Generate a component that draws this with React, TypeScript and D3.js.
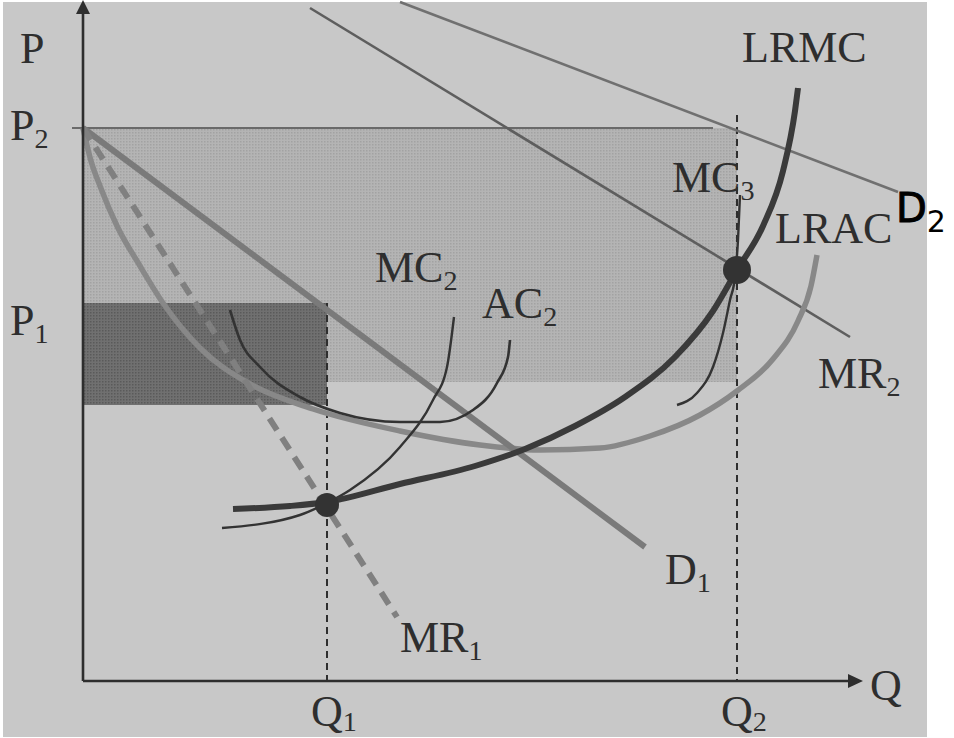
import React from "react";
import * as d3 from "d3";

// ---- data (Q, P in chart units) ----
const demand1: [number, number][] = [[0, 553], [562, 134]];
const marginalRevenue1: [number, number][] = [[0, 553], [314, 64]];
const demand2: [number, number][] = [[317, 679], [815, 489]];
const marginalRevenue2: [number, number][] = [[227, 673], [767, 344]];
const lrac: [number, number][] = [
  [0, 553], [8, 520], [17, 495], [34, 455], [57, 415], [80, 378], [117, 333],
  [167, 297], [230, 272], [317, 250], [397, 236], [457, 231], [517, 233],
  [567, 245], [617, 266], [654, 290], [690, 322], [715, 360], [728, 395], [734, 426],
];
const lrmc: [number, number][] = [
  [150, 172], [207, 175], [244, 179], [317, 197], [392, 215], [442, 232],
  [492, 255], [542, 284], [592, 324], [630, 370], [654, 411], [680, 455],
  [700, 510], [712, 570], [715, 593],
];
const mc2: [number, number][] = [
  [139, 153], [217, 166], [244, 178], [267, 191], [317, 234], [350, 281],
  [364, 314], [371, 364],
];
const ac2: [number, number][] = [
  [147, 371], [157, 341], [177, 314], [217, 284], [257, 268], [317, 259],
  [357, 259], [390, 271], [414, 298], [425, 324], [427, 341],
];
const mc3: [number, number][] = [
  [594, 276], [614, 288], [630, 314], [640, 348], [647, 381], [652, 404],
  [655, 441], [657, 486],
];
const equilibria: [number, number][] = [[244, 176], [654, 411]];
const quantityLevels = [244, 654];
const quantityLabels = ["1", "2"];
const priceLevels = [553, 378];
const priceLabels = ["2", "1"];
// [q0, q1, pTop, pBottom]
const shadedLight: number[] = [0, 654, 553, 299];
const shadedDark: number[] = [0, 244, 378, 276];

const W = 954;
const H = 738;
const x = d3.scaleLinear().domain([0, 780]).range([83, 863]);
const y = d3.scaleLinear().domain([0, 681]).range([681, 0]);

const smooth = d3
  .line<[number, number]>()
  .x((d) => x(d[0]))
  .y((d) => y(d[1]))
  .curve(d3.curveMonotoneX);
const straight = d3
  .line<[number, number]>()
  .x((d) => x(d[0]))
  .y((d) => y(d[1]));

const serif = "'Liberation Serif', 'DejaVu Serif', serif";
const ink = "#2e2e2e";

function Lab({ x0, y0, main, sub, size = 44, subDy = 8 }: { x0: number; y0: number; main: string; sub?: string; size?: number; subDy?: number }) {
  return (
    <text x={x0} y={y0} fontFamily={serif} fontSize={size} fill={ink}>
      {main}
      {sub ? (
        <tspan dy={subDy} fontSize={size * 0.64}>
          {sub}
        </tspan>
      ) : null}
    </text>
  );
}

export default function App() {
  const origin = { x: x(0), y: y(0) };
  return (
    <svg
      width={W}
      height={H}
      style={{ position: "absolute", left: 0, top: 0, display: "block" }}
    >
      <defs>
        <pattern id="lightTone" width="3" height="3" patternUnits="userSpaceOnUse">
          <rect width="3" height="3" fill="#b4b4b4" />
          <rect width="1.5" height="1.5" fill="#a2a2a2" />
        </pattern>
        <pattern id="darkTone" width="3" height="3" patternUnits="userSpaceOnUse">
          <rect width="3" height="3" fill="#707070" />
          <rect width="1.5" height="1.5" fill="#5a5a5a" />
        </pattern>
      </defs>
      <rect x={0} y={0} width={W} height={H} fill="#ffffff" />
      <rect x={3} y={2} width={924} height={735} fill="#c8c8c8" />

      {/* shaded areas */}
      <rect
        x={x(shadedLight[0])}
        y={y(shadedLight[2])}
        width={x(shadedLight[1]) - x(shadedLight[0])}
        height={y(shadedLight[3]) - y(shadedLight[2])}
        fill="url(#lightTone)"
      />
      <rect
        x={x(shadedDark[0])}
        y={y(shadedDark[2])}
        width={x(shadedDark[1]) - x(shadedDark[0])}
        height={y(shadedDark[3]) - y(shadedDark[2])}
        fill="url(#darkTone)"
      />
      {/* P2 top line */}
      <line x1={x(0) - 11} x2={x(630)} y1={y(priceLevels[0])} y2={y(priceLevels[0])} stroke="#6a6a6a" strokeWidth={2} />

      {/* Q dashed verticals */}
      {quantityLevels.map((q, i) => (
        <line
          key={i}
          x1={x(q)}
          x2={x(q)}
          y1={i === 0 ? y(priceLevels[1]) : y(566)}
          y2={y(0)}
          stroke={ink}
          strokeWidth={2}
          strokeDasharray="7,5"
        />
      ))}

      {/* D2 and MR2 */}
      <path d={straight(demand2) || ""} fill="none" stroke="#707070" strokeWidth={2.6} />
      <path d={straight(marginalRevenue2) || ""} fill="none" stroke="#5e5e5e" strokeWidth={2.6} />

      {/* LRAC */}
      <path d={smooth(lrac) || ""} fill="none" stroke="#888888" strokeWidth={5.5} />
      {/* D1 */}
      <path d={straight(demand1) || ""} fill="none" stroke="#7a7a7a" strokeWidth={6} />
      {/* MR1 dashed */}
      <path d={straight(marginalRevenue1) || ""} fill="none" stroke="#808080" strokeWidth={6} strokeDasharray="14,9" />

      {/* short run curves */}
      <path d={smooth(ac2) || ""} fill="none" stroke="#333" strokeWidth={2.6} />
      <path d={smooth(mc2) || ""} fill="none" stroke="#333" strokeWidth={2.4} />
      <path d={smooth(mc3) || ""} fill="none" stroke="#333" strokeWidth={2.4} />
      {/* LRMC */}
      <path d={smooth(lrmc) || ""} fill="none" stroke="#3a3a3a" strokeWidth={6} strokeLinecap="butt" />

      {/* equilibrium dots */}
      {equilibria.map((d, i) => (
        <circle key={i} cx={x(d[0])} cy={y(d[1])} r={i === 0 ? 12 : 14} fill="#333" />
      ))}

      {/* axes */}
      <line x1={origin.x} x2={origin.x} y1={origin.y} y2={8} stroke={ink} strokeWidth={2.6} />
      <path d={`M${origin.x - 7},${14} L${origin.x},${0} L${origin.x + 7},${14} Z`} fill={ink} />
      <line x1={origin.x} x2={x(770)} y1={origin.y} y2={origin.y} stroke={ink} strokeWidth={2.6} />
      <path d={`M${x(765)},${origin.y - 7} L${x(780)},${origin.y} L${x(765)},${origin.y + 7} Z`} fill={ink} />

      {/* axis labels */}
      <Lab x0={20} y0={63} main="P" />
      {priceLevels.map((p, i) => (
        <Lab key={i} x0={10} y0={y(p) + 12 + (i === 1 ? 20 : 0)} main="P" sub={priceLabels[i]} />
      ))}
      <Lab x0={870} y0={700} main="Q" />
      {quantityLevels.map((q, i) => (
        <Lab key={i} x0={x(q) - 16} y0={726} main="Q" sub={quantityLabels[i]} subDy={5} />
      ))}

      {/* curve labels */}
      <Lab x0={742} y0={62} main="LRMC" />
      <Lab x0={672} y0={192} main="MC" sub="3" />
      <Lab x0={775} y0={243} main="LRAC" />
      <Lab x0={375} y0={282} main="MC" sub="2" />
      <Lab x0={482} y0={318} main="AC" sub="2" />
      <Lab x0={818} y0={388} main="MR" sub="2" />
      <Lab x0={665} y0={584} main="D" sub="1" />
      <Lab x0={400} y0={652} main="MR" sub="1" />
      <text x={896} y={222} fontFamily="'DejaVu Sans', sans-serif" fontSize={40} fill="#000" stroke="#000" strokeWidth={1}>
        D
        <tspan dy={10} fontSize={30} strokeWidth={0}>
          2
        </tspan>
      </text>
    </svg>
  );
}
